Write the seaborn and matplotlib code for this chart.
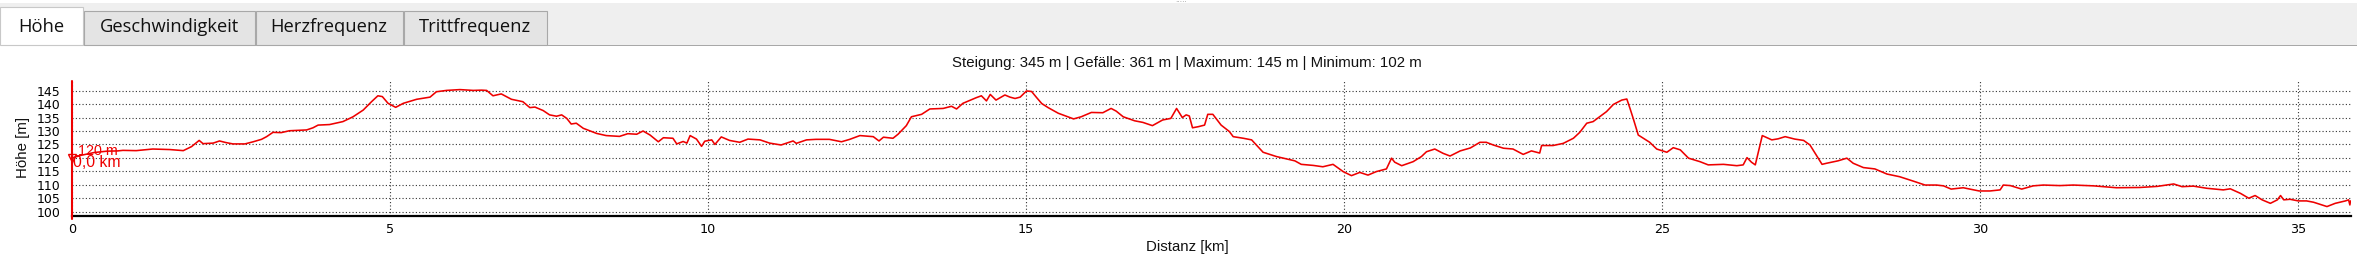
import numpy as np
import pandas as pd
import matplotlib
matplotlib.use("Agg")
import matplotlib.pyplot as plt
import seaborn as sns
from matplotlib.patches import Rectangle

# ---------------- data ----------------
km = [0.00, 0.15, 0.35, 0.55, 0.72, 0.80, 1.01, 1.27, 1.54, 1.75, 1.88, 2.00, 2.06, 2.22, 2.32,
      2.42, 2.53, 2.72, 2.85, 2.98, 3.06, 3.16, 3.29, 3.42, 3.69, 3.79, 3.87, 4.05, 4.26, 4.42,
      4.58, 4.71, 4.81, 4.88, 4.97, 5.09, 5.21, 5.42, 5.63, 5.73, 5.89, 6.10, 6.31, 6.44, 6.52,
      6.62, 6.75, 6.91, 7.09, 7.20, 7.28, 7.41, 7.51, 7.62, 7.70, 7.78, 7.85, 7.93, 8.04, 8.25,
      8.40, 8.61, 8.74, 8.88, 8.98, 9.09, 9.22, 9.30, 9.45, 9.51, 9.61, 9.67, 9.72, 9.82, 9.90,
      9.95, 10.06, 10.11, 10.21, 10.34, 10.50, 10.63, 10.82, 10.97, 11.15, 11.34, 11.39, 11.55,
      11.70, 11.91, 12.10, 12.23, 12.39, 12.60, 12.69, 12.76, 12.91, 12.99, 13.12, 13.20, 13.36,
      13.49, 13.70, 13.83, 13.91, 14.01, 14.22, 14.30, 14.38, 14.44, 14.53, 14.67, 14.75, 14.83,
      14.91, 15.01, 15.09, 15.17, 15.25, 15.35, 15.51, 15.75, 15.87, 16.03, 16.21, 16.34, 16.42,
      16.53, 16.71, 16.84, 16.99, 17.15, 17.28, 17.37, 17.46, 17.52, 17.57, 17.62, 17.71, 17.81,
      17.86, 17.94, 18.07, 18.20, 18.26, 18.42, 18.55, 18.73, 18.94, 19.10, 19.23, 19.33, 19.52,
      19.67, 19.83, 19.99, 20.12, 20.25, 20.38, 20.51, 20.67, 20.75, 20.80, 20.91, 21.09, 21.22,
      21.30, 21.43, 21.56, 21.67, 21.83, 21.99, 22.14, 22.24, 22.35, 22.51, 22.66, 22.82, 22.95,
      23.08, 23.11, 23.29, 23.45, 23.61, 23.71, 23.82, 23.92, 24.13, 24.24, 24.37, 24.45, 24.50,
      24.55, 24.63, 24.81, 24.92, 25.08, 25.18, 25.29, 25.42, 25.60, 25.73, 25.97, 26.18, 26.28,
      26.34, 26.41, 26.47, 26.58, 26.73, 26.83, 26.94, 27.09, 27.23, 27.33, 27.52, 27.59, 27.77,
      27.91, 28.01, 28.17, 28.35, 28.54, 28.74, 28.95, 29.14, 29.32, 29.43, 29.55, 29.74, 29.99,
      30.16, 30.32, 30.37, 30.48, 30.66, 30.84, 31.00, 31.26, 31.47, 31.79, 32.15, 32.52, 32.79,
      33.05, 33.18, 33.36, 33.57, 33.83, 33.94, 34.10, 34.23, 34.33, 34.44, 34.57, 34.68, 34.73,
      34.78, 34.88, 35.01, 35.14, 35.25, 35.46, 35.59, 35.75, 35.80, 35.82, 35.83]
hoehe = [120.0, 121.0, 122.0, 122.5, 122.6, 122.8, 122.7, 123.3, 123.1, 122.7, 124.2, 126.5, 125.3, 125.5, 126.3,
         125.7, 125.2, 125.2, 126.0, 126.9, 127.9, 129.5, 129.4, 130.1, 130.4, 131.2, 132.2, 132.4, 133.5, 135.3,
         137.8, 140.9, 143.1, 142.8, 140.3, 138.8, 140.3, 141.8, 142.6, 144.6, 145.1, 145.4, 145.1, 145.2, 145.1,
         143.1, 143.8, 141.8, 140.9, 138.7, 138.9, 137.6, 136.0, 135.5, 136.0, 134.7, 132.6, 132.9, 131.0, 129.1,
         128.3, 128.0, 129.0, 128.8, 130.0, 128.5, 126.0, 127.5, 127.3, 125.2, 126.1, 125.5, 128.3, 127.0, 124.3,
         126.2, 126.7, 125.0, 127.8, 126.5, 125.8, 127.0, 126.7, 125.5, 124.8, 126.3, 125.4, 126.7,
         126.9, 126.9, 126.0, 126.9, 128.3, 127.9, 126.3, 127.7, 127.3, 128.8, 132.0, 135.3, 136.2,
         138.2, 138.4, 139.2, 138.2, 140.3, 142.4, 143.1, 141.2, 143.6, 141.5, 143.4, 142.6, 142.1,
         142.6, 144.9, 144.7, 142.4, 140.2, 138.7, 136.6, 134.5, 135.3, 136.9, 136.8, 138.4, 137.4,
         135.3, 133.8, 133.2, 132.0, 134.1, 134.7, 138.4, 135.0, 136.0, 135.6, 131.2, 131.6, 132.2,
         136.2, 136.2, 132.2, 129.8, 127.9, 127.3, 126.7, 122.1, 120.5, 119.6, 118.9, 117.6, 117.2,
         116.7, 117.6, 114.9, 113.4, 114.6, 113.6, 114.9, 115.9, 119.9, 118.4, 117.1, 118.6, 120.5,
         122.3, 123.3, 121.7, 120.7, 122.6, 123.7, 125.8, 125.8, 124.8, 123.6, 123.3, 121.3, 122.6,
         121.8, 124.6, 124.6, 125.4, 127.3, 129.5, 132.9, 133.5, 137.2, 139.9, 141.5, 141.9, 138.4,
         134.7, 128.5, 125.8, 123.3, 122.1, 123.8, 123.0, 119.9, 118.6, 117.4, 117.6, 117.1, 117.4,
         120.1, 118.4, 117.4, 128.3, 126.7, 127.1, 127.9, 127.0, 126.5, 124.8, 117.6, 118.0, 118.9,
         119.9, 118.0, 116.4, 115.9, 114.0, 113.0, 111.4, 109.9, 109.9, 109.6, 108.4, 108.9, 107.7,
         107.7, 108.1, 109.9, 109.7, 108.4, 109.6, 109.9, 109.7, 109.9, 109.6, 108.9, 109.0, 109.4,
         110.3, 109.3, 109.5, 108.7, 108.1, 108.5, 106.8, 105.0, 106.0, 104.4, 103.1, 104.4, 106.0,
         104.4, 104.6, 104.0, 104.0, 103.5, 101.9, 103.1, 104.0, 104.4, 102.5, 104.0]
x_ticks = [0, 5, 10, 15, 20, 25, 30, 35]
y_ticks = [100, 105, 110, 115, 120, 125, 130, 135, 140, 145]
tab_labels = ["Höhe", "Geschwindigkeit", "Herzfrequenz", "Trittfrequenz"]
title_text = "Steigung: 345 m | Gefälle: 361 m | Maximum: 145 m | Minimum: 102 m"
x_label = "Distanz [km]"
y_label = "Höhe [m]"
cursor_km = 0.0
cursor_m = 120

# ---------------- layout ----------------
sns.set_style("white")
plt.rcParams['font.family'] = ['Liberation Sans', 'DejaVu Sans']

W, H = 2362, 265
fig = plt.figure(figsize=(W / 100, H / 100), dpi=100)
fig.patch.set_facecolor('white')
RED = '#ee0000'

ax_l, ax_r, ax_t, ax_b = 72.0, 2350.5, 81.0, 215.7
ax = fig.add_axes([ax_l / W, 1 - ax_b / H, (ax_r - ax_l) / W, (ax_b - ax_t) / H])
df = pd.DataFrame({"Distanz": km, "Höhe": hoehe})
sns.lineplot(data=df, x="Distanz", y="Höhe", ax=ax, color=RED, linewidth=1.15, zorder=3)
ax.set_xlim(0, 35.83)
ax.set_ylim(98.5, 148.6)
ax.set_xticks(x_ticks)
ax.set_yticks(y_ticks)
ax.grid(True, color='#333333', linestyle=(0, (1, 2)), linewidth=0.8)
for s in ['top', 'right', 'left']:
    ax.spines[s].set_visible(False)
ax.spines['bottom'].set_color('black')
ax.spines['bottom'].set_linewidth(1.6)
ax.tick_params(axis='x', direction='inout', length=5, width=0.9, color='black',
               labelsize=9.2, pad=3, labelcolor='black')
ax.tick_params(axis='y', direction='out', length=3, width=0.9, color=RED,
               labelcolor='black', labelsize=9.0, pad=5.5)
for lab in ax.get_xticklabels() + ax.get_yticklabels():
    lab.set_family(['DejaVu Sans'])
ax.set_xlabel(x_label, fontsize=10.5, color='#111111')
ax.set_ylabel(y_label, fontsize=10.5, color='#111111')
ax.xaxis.set_label_coords((1187 - ax_l) / (ax_r - ax_l), -(246.7 - ax_b) / (ax_b - ax_t))
ax.xaxis.label.set_va('center')
ax.yaxis.set_label_coords((23 - ax_l) / (ax_r - ax_l), (ax_b - 147.5) / (ax_b - ax_t))
ax.yaxis.label.set_va('center')
ax.yaxis.label.set_ha('center')

# cursor
ax.axvline(cursor_km, ymin=-0.025, ymax=1.0, color=RED, lw=1.5, clip_on=False, zorder=4)
ax.plot([cursor_km], [cursor_m], marker='v', ms=6, mfc='none', mec=RED, mew=1.0,
        clip_on=False, zorder=5)
lab_m = ax.annotate(f"{cursor_m} m", xy=(cursor_km, cursor_m), xytext=(6, 7.3),
                    textcoords='offset pixels', color=RED, fontsize=10.5, ha='left',
                    va='center', zorder=6)
lab_km = ax.annotate(f"{cursor_km:.1f}".replace('.', ',') + " km", xy=(cursor_km, cursor_m),
                     xytext=(1, -4.8), textcoords='offset pixels', color=RED, fontsize=10.5,
                     ha='left', va='center', zorder=6)

renderer = fig.canvas.get_renderer()


def fit_width(t, target, use_height=False):
    bb = t.get_window_extent(renderer)
    cur = bb.height if use_height else bb.width
    t.set_fontsize(t.get_fontsize() * target / cur)


title = fig.text(1187 / W, 1 - 63.3 / H, title_text, ha='center', va='center',
                 fontsize=10, color='#111111')
fit_width(title, 472)
fit_width(ax.xaxis.label, 83)
fit_width(ax.yaxis.label, 61, use_height=True)
fit_width(lab_m, 40)
fit_width(lab_km, 48)

# ---------------- tab bar (overlay in pixel coords) ----------------
ov = fig.add_axes([0, 0, 1, 1], zorder=10)
ov.set_xlim(0, W)
ov.set_ylim(H, 0)
ov.axis('off')
ov.add_patch(Rectangle((0, 3), 2357, 42, fc='#efefef', ec='none'))
ov.add_patch(Rectangle((11, 44.5), 2346, 1.6, fc='#a8a8a8', ec='none'))
tab_edges = [(0, 83), (84, 254.5), (255.6, 402.6), (403.7, 547)]
tab_texts = []
for i, (lab, (x0, x1)) in enumerate(zip(tab_labels, tab_edges)):
    if i == 0:
        ov.add_patch(Rectangle((x0, 7.3), x1 - x0, 37.5, fc='white', ec='#c8c8c8', lw=0.8))
    else:
        ov.add_patch(Rectangle((x0, 10.7), x1 - x0, 34.0, fc='#e4e4e4', ec='#a8a8a8', lw=0.8))
    t = ov.text((x0 + x1) / 2, 27.0, lab, ha='center', va='center', fontsize=12,
                color='#111111', family=['Open Sans', 'DejaVu Sans'])
    tab_texts.append(t)
bb = tab_texts[1].get_window_extent(renderer)
scale = 139.0 / bb.width
for t in tab_texts:
    t.set_fontsize(t.get_fontsize() * scale)
ov.text(1181, 3.0, "·····", ha='center', va='center', fontsize=5, color='#8a8a8a')

fig.savefig("out.png", dpi=100, facecolor='white')
